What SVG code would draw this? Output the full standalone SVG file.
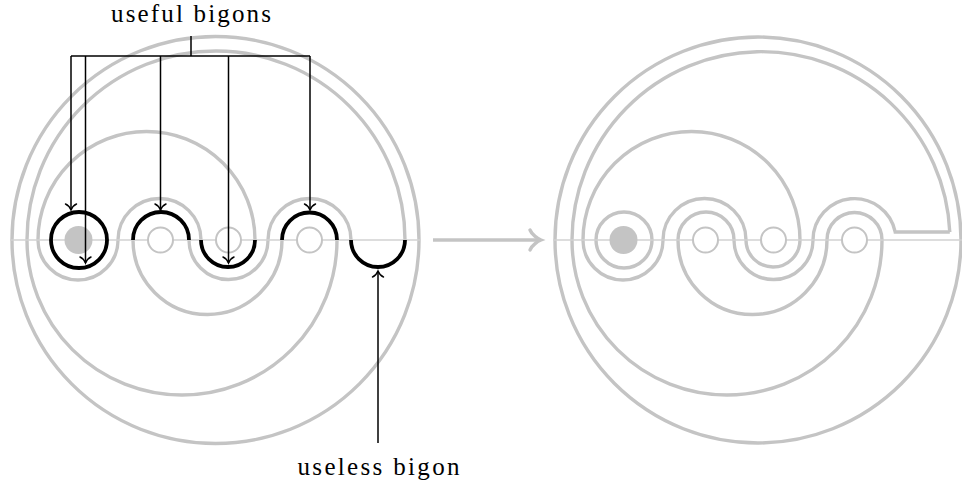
<svg xmlns="http://www.w3.org/2000/svg" width="962" height="486" viewBox="0 0 962 486">
<defs>
<style>
.g{fill:none;stroke:#c4c4c4;stroke-width:3.4}
.b{fill:none;stroke:#000;stroke-width:3.8}
.ax{fill:none;stroke:#d2d2d2;stroke-width:1.5}
.pn{fill:#fff;stroke:#c4c4c4;stroke-width:2}
.pf{fill:#c4c4c4;stroke:none}
.ar{fill:none;stroke:#000;stroke-width:1.5}
.lbl{font-family:"Liberation Serif","DejaVu Serif",serif;font-size:25px;fill:#000}
</style>
<marker id="ah" markerUnits="userSpaceOnUse" orient="auto" refX="0" refY="0" markerWidth="20" markerHeight="20" viewBox="-10 -10 20 20" overflow="visible">
<path d="M-6,-5.5 C-5,-3 -2,-0.8 0,0 C-2,0.8 -5,3 -6,5.5" fill="none" stroke="#000" stroke-width="1.5" stroke-linecap="round"/>
</marker>
<marker id="ahg" markerUnits="userSpaceOnUse" orient="auto" refX="0" refY="0" markerWidth="30" markerHeight="30" viewBox="-15 -15 30 30" overflow="visible">
<path d="M-11,-10 C-9,-5 -3,-1.2 0,0 C-3,1.2 -9,5 -11,10" fill="none" stroke="#c4c4c4" stroke-width="3.4" stroke-linecap="round"/>
</marker>
</defs>
<rect width="962" height="486" fill="#fff"/>

<g id="left-diagram">
  <g id="left-curves">
    <circle class="g" cx="215.5" cy="240" r="203.5"/>
    <path class="g" d="M27,240 A189,189 0 0 1 405,240"/>
    <path class="g" d="M27,240 A155,155 0 0 0 337,240"/>
    <path class="g" d="M38,240 A108.5,108.5 0 0 1 255,240"/>
    <path class="g" d="M38,240 A40,40 0 0 0 118,240"/>
    <path class="g" d="M118,240 A41.5,41.5 0 0 1 201,240"/>
    <path class="g" d="M133,240 A74.5,74.5 0 0 0 282,240"/>
    <path class="g" d="M189,240 A39.5,39.5 0 0 0 268,240"/>
    <path class="g" d="M268,240 A41.5,41.5 0 0 1 351,240"/>
  </g>
  <path id="left-axis" class="ax" d="M10,240 H420"/>
  <g id="left-punctures">
    <circle class="pf" cx="78.5" cy="240" r="14"/>
    <circle class="pn" cx="160.5" cy="240" r="12.5"/>
    <circle class="pn" cx="228.5" cy="240" r="12.5"/>
    <circle class="pn" cx="309.5" cy="240" r="12.5"/>
  </g>
  <g id="bigons">
    <circle class="b" cx="79" cy="240" r="28"/>
    <path class="b" d="M133,240 A28,28 0 0 1 189,240"/>
    <path class="b" d="M201,240 A27,27 0 0 0 255,240"/>
    <path class="b" d="M282,240 A27.5,27.5 0 0 1 337,240"/>
    <path class="b" d="M351,240 A27,27 0 0 0 405,240"/>
  </g>
</g>

<g id="right-diagram">
  <g id="right-curves" transform="translate(545,0)">
    <circle class="g" cx="213" cy="240" r="203"/>
    <path class="g" d="M27,240 A189,189 0 0 1 404.8,232"/>
    <path class="g" d="M27,240 A155,155 0 0 0 337,240"/>
    <path class="g" d="M38,240 A108.5,108.5 0 0 1 255,240"/>
    <path class="g" d="M38,240 A40,40 0 0 0 118,240"/>
    <path class="g" d="M118,240 A41.5,41.5 0 0 1 201,240"/>
    <path class="g" d="M133,240 A74.5,74.5 0 0 0 282,240"/>
    <path class="g" d="M189,240 A39.5,39.5 0 0 0 268,240"/>
    <path class="g" d="M268,240 A41.5,41.5 0 0 1 350.2,232 H404.8"/>
    <circle class="g" cx="79" cy="240" r="28"/>
    <path class="g" d="M133,240 A28,28 0 0 1 189,240"/>
    <path class="g" d="M201,240 A27,27 0 0 0 255,240"/>
    <path class="g" d="M282,240 A27.5,27.5 0 0 1 337,240"/>
  </g>
  <path id="right-axis" class="ax" d="M553,240 H962"/>
  <g id="right-punctures" transform="translate(545,0)">
    <circle class="pf" cx="78.5" cy="240" r="14"/>
    <circle class="pn" cx="160.5" cy="240" r="12.5"/>
    <circle class="pn" cx="228.5" cy="240" r="12.5"/>
    <circle class="pn" cx="309.5" cy="240" r="12.5"/>
  </g>
</g>

<g id="connectors">
  <path class="ar" d="M191,36 V56 M71,56 H310"/>
  <path class="ar" d="M71,56 V210" marker-end="url(#ah)"/>
  <path class="ar" d="M85.5,56 V263" marker-end="url(#ah)"/>
  <path class="ar" d="M160.5,56 V210" marker-end="url(#ah)"/>
  <path class="ar" d="M228.5,56 V263" marker-end="url(#ah)"/>
  <path class="ar" d="M310,56 V210" marker-end="url(#ah)"/>
  <path class="ar" d="M378,443 V271" marker-end="url(#ah)"/>
  <path d="M433,240 H541" fill="none" stroke="#c4c4c4" stroke-width="3.4" marker-end="url(#ahg)"/>
</g>

<g id="labels">
  <text id="lbl-useful" class="lbl" x="191" y="22" text-anchor="middle" textLength="160" lengthAdjust="spacing">useful bigons</text>
  <text id="lbl-useless" class="lbl" x="378.5" y="475" text-anchor="middle" textLength="162" lengthAdjust="spacing">useless bigon</text>
</g>
</svg>
